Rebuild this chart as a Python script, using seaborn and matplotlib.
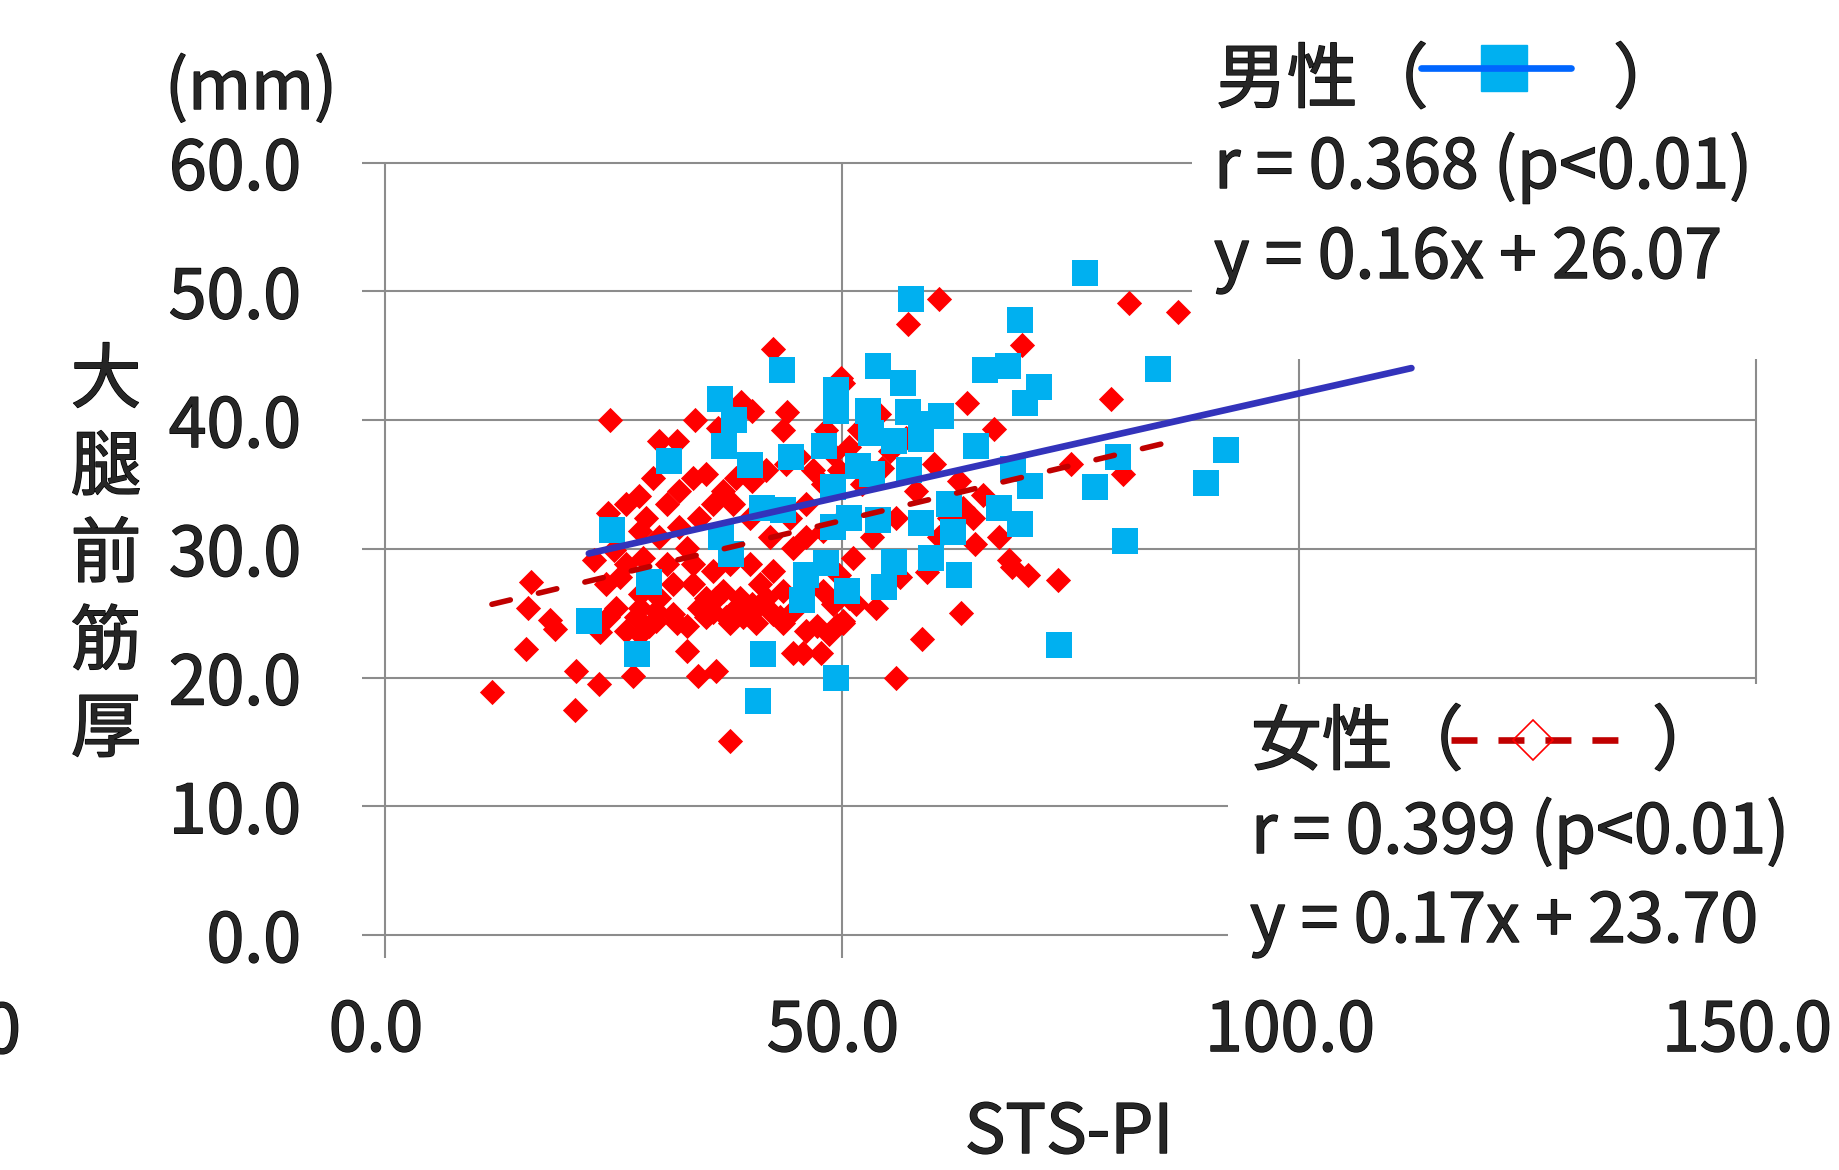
import matplotlib
matplotlib.use("Agg")
import matplotlib.pyplot as plt
import matplotlib.patheffects as pe
from matplotlib.patches import Rectangle
from matplotlib.lines import Line2D
from matplotlib.transforms import ScaledTranslation
import seaborn as sns

# women (red diamonds): STS-PI, thigh muscle thickness (mm)
female_x = [42.4, 24.6, 33.9, 44.0, 39.0, 40.1, 49.9, 30.0, 31.9, 36.4, 43.5, 24.4, 27.8, 29.3,
            16.0, 15.7, 18.0, 18.6, 15.4, 20.9, 23.4, 20.8, 11.7, 27.1, 33.0, 34.2, 36.2, 37.7,
            44.6, 45.7, 47.7, 47.3, 49.5, 22.9, 23.5, 24.4, 27.5, 28.9, 27.9, 33.0, 35.9, 37.3,
            39.2, 43.2,
            26.4, 28.6, 30.8, 32.2, 33.7, 35.1, 37.0, 38.4, 40.2, 41.7, 43.9, 45.3, 46.8, 48.3,
            49.0, 50.8, 27.9, 30.0, 32.2, 34.4, 35.9, 38.1, 39.9, 42.1, 44.3, 46.1, 47.9, 49.7,
            25.0, 26.4, 28.2, 30.8, 33.0, 33.7, 35.9, 37.7, 39.9, 41.0, 42.4, 44.6, 46.1, 47.9,
            50.1, 24.2, 25.7, 27.9, 30.0, 31.5, 33.7, 35.1, 37.0, 38.8, 40.2, 41.7, 43.5, 46.1,
            47.9, 49.7, 25.3, 27.9, 29.7, 31.5, 34.4, 36.2, 38.1, 40.6, 42.4, 44.6, 49.0, 50.8,
            29.7, 31.9, 35.1, 37.7, 46.1, 48.6, 50.1, 51.5, 26.4, 40.6, 43.5,
            60.6, 57.2, 81.4, 86.8, 69.7, 63.7, 79.4, 66.6, 75.0, 80.7, 50.1, 54.1, 51.9, 60.1,
            62.8, 65.4, 64.3, 64.6, 67.2, 68.3, 68.6, 70.3, 73.6, 63.0, 58.8, 55.9, 53.7, 50.1,
            59.3, 56.3, 51.2, 53.3, 55.9, 58.1, 55.2, 57.0, 52.2, 54.4, 61.7, 60.6, 63.2]
female_y = [45.5, 40.0, 40.0, 40.6, 41.4, 40.7, 43.3, 38.4, 38.4, 39.4, 39.2, 32.8, 34.1, 35.5,
            27.4, 25.4, 24.5, 23.8, 22.2, 20.5, 19.5, 17.5, 18.9, 20.1, 22.1, 20.1, 20.5, 15.1,
            21.9, 21.9, 21.9, 24.0, 24.1, 29.1, 23.5, 24.7, 24.7, 24.0, 23.4, 24.0, 25.1, 24.7,
            24.7, 24.7,
            33.5, 32.4, 33.5, 34.5, 35.5, 35.8, 34.5, 35.5, 35.3, 36.1, 36.6, 37.1, 36.1, 39.2,
            37.4, 37.9, 31.4, 30.9, 31.7, 32.4, 33.5, 33.5, 32.4, 30.9, 32.4, 33.5, 35.0, 36.1,
            29.9, 28.8, 29.3, 28.8, 30.1, 28.8, 28.3, 28.8, 28.8, 27.3, 28.3, 30.1, 30.9, 31.4,
            32.4, 27.3, 27.8, 26.5, 26.2, 27.3, 27.3, 26.2, 26.7, 26.2, 25.7, 26.2, 26.7, 27.3,
            26.7, 28.0, 25.4, 25.4, 25.2, 24.9, 25.4, 26.2, 25.2, 25.4, 24.9, 25.2, 25.7, 26.2,
            24.4, 24.2, 24.7, 24.2, 23.6, 23.4, 24.4, 25.7, 23.6, 24.2, 24.2,
            49.4, 47.5, 49.1, 48.4, 45.8, 41.3, 41.6, 39.3, 36.6, 35.8, 42.9, 40.5, 39.2, 36.6,
            35.3, 34.2, 32.4, 30.4, 30.9, 29.1, 28.6, 28.0, 27.6, 25.0, 23.0, 20.0, 25.4, 24.2,
            28.2, 27.8, 29.3, 30.9, 32.4, 34.5, 37.6, 38.6, 35.0, 36.3, 32.4, 30.9, 33.2]

# men (cyan squares)
male_x = [43.4, 36.6, 38.2, 37.1, 31.1, 39.9, 44.4, 49.3, 49.3, 48.0, 49.0, 41.3, 43.5, 49.0,
          24.8, 36.8, 37.9, 28.9, 48.3, 46.1, 50.6, 45.6, 22.3, 27.6, 41.4, 49.3, 40.8,
          57.6, 76.6, 69.5, 53.9, 56.7, 65.6, 68.2, 71.6, 70.0, 84.6, 52.8, 57.2, 60.8, 58.6,
          53.2, 55.7, 58.6, 64.7, 68.7, 80.2, 77.7, 92.0, 89.8, 51.7, 53.3, 57.3, 70.6, 61.7,
          67.2, 69.5, 50.8, 53.9, 58.6, 62.1, 81.0, 55.7, 59.7, 62.8, 54.6, 73.7]
male_y = [43.9, 41.6, 40.0, 38.0, 36.8, 36.5, 37.1, 42.3, 40.7, 38.0, 34.8, 33.2, 33.0, 31.7,
          31.5, 30.9, 29.6, 27.4, 28.9, 28.0, 26.7, 26.0, 24.4, 21.8, 21.8, 20.0, 18.2,
          49.4, 51.4, 47.8, 44.2, 42.9, 43.9, 44.2, 42.6, 41.3, 44.0, 40.7, 40.6, 40.3, 39.7,
          39.0, 38.4, 38.5, 38.0, 36.2, 37.1, 34.8, 37.7, 35.1, 36.4, 35.8, 36.1, 34.9, 33.5,
          33.2, 31.9, 32.4, 32.2, 32.0, 31.3, 30.6, 29.0, 29.3, 28.0, 27.0, 22.5]

# trend lines (slope, intercept) and the x span Excel drew them over
male_fit = (0.16, 26.07)
male_span = [22.3, 112.3]
female_fit = (0.17, 23.70)
female_span = [11.7, 86.8]

x_ticks = [0, 50, 100, 150]
y_ticks = [0, 10, 20, 30, 40, 50, 60]

W, H = 1839, 1170
sns.set_style("white")
plt.rcParams['font.family'] = ['Noto Sans CJK JP', 'DejaVu Sans']
FS = 49
FJ = 51
bold_fx = [pe.withStroke(linewidth=1.0, foreground="black")]

fig = plt.figure(figsize=(W / 100, H / 100), dpi=100)

def fx(p):
    return p / W

def fy(p):
    return 1 - p / H

def label(x, y, s, **kw):
    kw.setdefault("va", "baseline")
    kw.setdefault("zorder", 7)
    return fig.text(fx(x), fy(y), s, path_effects=bold_fx, **kw)

# axes placed so that x=0 -> 385px, x=150 -> 1756px, y=0 -> 935px, y=60 -> 162.6px
x0, x1, y0, y1 = -2.5, 150.3, -1.8, 60.3
sx, sy = 9.14, 12.873
left, right = 385 + sx * x0, 385 + sx * x1
top, bottom = 935 - sy * y1, 935 - sy * y0
ax = fig.add_axes([fx(left), 1 - bottom / H, (right - left) / W, (bottom - top) / H])
ax.set_xlim(x0, x1)
ax.set_ylim(y0, y1)
for s in ax.spines.values():
    s.set_visible(False)

grid_c = "#8C8C8C"
ax.hlines(y_ticks, x0, 150, colors=grid_c, lw=1.5, zorder=1)
ax.vlines(x_ticks, y0, 60, colors=grid_c, lw=1.5, zorder=1)

sns.scatterplot(x=female_x, y=female_y, marker="D", s=165, color="#FF0000",
                linewidth=0, ax=ax, zorder=3)
sns.scatterplot(x=male_x, y=male_y, marker="s", s=370, color="#00B0F0",
                linewidth=0, ax=ax, zorder=4)

# Excel linear trend lines from the printed equations
m_y = [male_fit[0] * v + male_fit[1] for v in male_span]
f_y = [female_fit[0] * v + female_fit[1] for v in female_span]
ax.plot(female_span, f_y, color="#C00000", lw=4.0, linestyle=(0, (3.4, 5.2)),
        dash_capstyle="round", zorder=5)
ax.plot(male_span, m_y, color="#3333BB", lw=4.8, solid_capstyle="round", zorder=6)

ax.set_yticks(y_ticks, labels=[f"{v:.1f}" for v in y_ticks])
ax.set_xticks(x_ticks, labels=[f"{v:.1f}" for v in x_ticks])
ax.tick_params(axis="y", length=0, pad=44, labelsize=FS)
ax.tick_params(axis="x", length=0, pad=28, labelsize=FS)
shift = ScaledTranslation(-9 / 100, 0, fig.dpi_scale_trans)
for lab in ax.get_xticklabels():
    lab.set_transform(lab.get_transform() + shift)
    lab.set_path_effects(bold_fx)
for lab in ax.get_yticklabels():
    lab.set_path_effects(bold_fx)
ax.set_xlabel("")
ax.set_ylabel("")
label(21, 1053, "-50.0", ha="right", fontsize=FS)

# white text boxes covering the gridlines (as in the Excel sheet)
fig.add_artist(Rectangle((fx(1192), fy(359)), (W - 1192) / W, 359 / H,
                         transform=fig.transFigure, facecolor="white", edgecolor="none", zorder=5))
fig.add_artist(Rectangle((fx(1228), fy(962)), (W - 1228) / W, (962 - 684) / H,
                         transform=fig.transFigure, facecolor="white", edgecolor="none", zorder=5))

# axis titles
label(165, 109, "(mm)", fontsize=FS)
label(1069, 1153, "STS-PI", ha="center", fontsize=FS)
label(106, 556, "\n".join("大腿前筋厚"), ha="center", va="center", fontsize=FJ, linespacing=1.25)

# male annotation
label(1216, 102, "男性（", fontsize=FJ)
label(1613, 102, "）", fontsize=FJ)
fig.add_artist(Line2D([fx(1504)], [fy(68)], transform=fig.transFigure, marker="s", ms=33,
                      color="#00B0F0", linestyle="none", zorder=7))
fig.add_artist(Line2D([fx(1421), fx(1571)], [fy(68), fy(68)], transform=fig.transFigure,
                      color="#0066FF", lw=4.8, zorder=8))
label(1214, 188, "r = 0.368 (p<0.01)", fontsize=FS)
label(1214, 278, "y = 0.16x + 26.07", fontsize=FS)

# female annotation
label(1251, 764, "女性（", fontsize=FJ)
label(1652, 764, "）", fontsize=FJ)
fig.add_artist(Line2D([fx(1451), fx(1619)], [fy(740), fy(740)], transform=fig.transFigure,
                      color="#C00000", lw=4.75, linestyle=(0, (3.94, 3.18)), zorder=7))
fig.add_artist(Line2D([fx(1533)], [fy(740)], transform=fig.transFigure, marker="D", ms=20,
                      mfc="none", mec="#FF0000", mew=1.2, linestyle="none", zorder=8))
label(1251, 853, "r = 0.399 (p<0.01)", fontsize=FS)
label(1250, 942, "y = 0.17x + 23.70", fontsize=FS)

fig.savefig("out.png", dpi=100, facecolor="white")
